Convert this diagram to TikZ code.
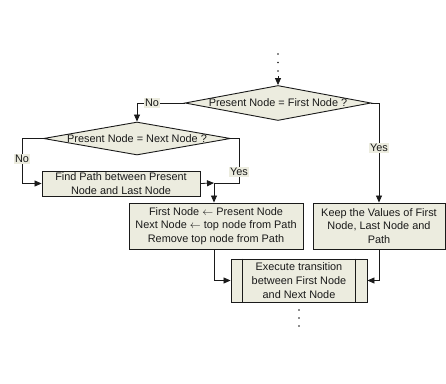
\documentclass[tikz,border=0pt]{standalone}
\usepackage{fontspec}
\setmainfont{Liberation Sans}
\usetikzlibrary{shapes.geometric,arrows.meta}
\definecolor{boxfill}{HTML}{ECECDF}
\definecolor{ink}{HTML}{1A1A1A}
\tikzset{
  every node/.style={text=ink,font=\fontsize{10.9}{13.6}\selectfont},
  pbox/.style={draw=ink,line width=0.9pt,fill=boxfill,rectangle,inner sep=0pt,align=center},
  dbox/.style={draw=ink,line width=0.9pt,fill=boxfill,diamond,inner sep=0pt},
  lab/.style={fill=boxfill,inner sep=1pt},
  conn/.style={draw=ink,line width=0.8pt},
  arr/.style={conn,-{Triangle[length=7pt,width=6pt]}},
  dotmark/.style={fill=ink,circle,inner sep=0pt,minimum size=1.6pt}
}
\begin{document}
\begin{tikzpicture}[x=1pt,y=-1pt]
\useasboundingbox (0,0) rectangle (446,383);
% top dots
\node[dotmark] (t1) at (278,54) {};
\node[dotmark] (t2) at (278,62.5) {};
\node[dotmark] (t3) at (278,71) {};
\coordinate (tin) at (278,76);
% decision 1
\node[dbox,minimum width=186pt,minimum height=35pt] (d1) at (278,103) {};
\node (d1t) at (d1) {Present Node = First Node ?};
% decision 2
\node[dbox,minimum width=187pt,minimum height=33pt] (d2) at (137,138.5) {};
\node (d2t) at (d2) {Present Node = Next Node ?};
% boxes
\node[pbox,minimum width=158pt,minimum height=25pt] (fp) at (121,183.5) {Find Path between Present\\Node and Last Node};
\node[pbox,minimum width=174pt,minimum height=46pt] (b3) at (216,226) {First Node $\leftarrow$ Present Node\\Next Node $\leftarrow$ top node from Path\\Remove top node from Path};
\node[pbox,minimum width=132pt,minimum height=46pt] (kp) at (379,226) {Keep the Values of First\\Node, Last Node and\\Path};
\node[pbox,minimum width=136pt,minimum height=43pt] (ex) at (299,280.5) {Execute transition\\between First Node\\and Next Node};
\draw[conn] ([xshift=12pt]ex.north west) -- ([xshift=12pt]ex.south west);
\draw[conn] ([xshift=-12pt]ex.north east) -- ([xshift=-12pt]ex.south east);
% bottom dots
\node[dotmark] (b1) at (299,310) {};
\node[dotmark] (b2) at (299,318) {};
\node[dotmark] (b3d) at (299,326) {};
% connectors
\coordinate (j) at (214,183);
\draw[arr] (tin) -- (d1.north);
\draw[arr] (d1.west) -- (137,103) -- (d2.north);
\node[lab] (no1) at (152,103) {No};
\draw[arr] (d1.east) -- (379,103) -- (kp.north);
\node[lab] (yes1) at (379,148) {Yes};
\draw[arr] (d2.west) -- (22,138.5) -- (22,183.5) -- (fp.west);
\node[lab] (no2) at (22,159) {No};
\draw[conn] (d2.east) -- (239,138.5) -- (239,183) -- (j);
\node[lab] (yes2) at (239,172) {Yes};
\draw[arr] (fp.east) -- (j);
\draw[arr] (j) -- (j |- b3.north);
\draw[arr] (b3.south -| j) -- (214,280.5) -- (ex.west);
\draw[arr] (kp.south) -- (379,280.5) -- (ex.east);
\end{tikzpicture}
\end{document}
